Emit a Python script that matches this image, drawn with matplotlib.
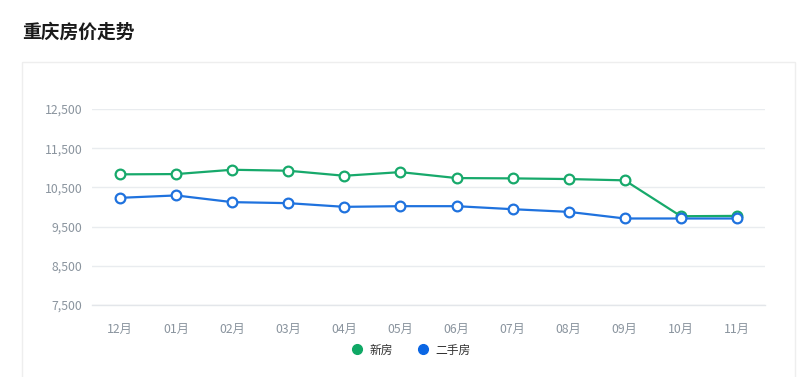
import matplotlib
matplotlib.use("Agg")
import matplotlib.pyplot as plt
from matplotlib.patches import Rectangle
from matplotlib.lines import Line2D

plt.rcParams['font.family'] = ['Noto Sans CJK SC', 'DejaVu Sans']

months = ['12月', '01月', '02月', '03月', '04月', '05月', '06月', '07月', '08月', '09月', '10月', '11月']
new_house = [10833, 10840, 10950, 10925, 10797, 10890, 10738, 10730, 10713, 10680, 9765, 9773]
second_hand = [10234, 10295, 10124, 10098, 10004, 10021, 10021, 9944, 9876, 9707, 9707, 9707]
yticks = [7500, 8500, 9500, 10500, 11500, 12500]

green = '#17a96b'
blue = '#1f72de'
grid_c = '#e9ecef'
label_c = '#8a949e'

fig = plt.figure(figsize=(8, 3.77), dpi=100)
W, H = 800, 377

# card background, kept under the axes
fig.patches.append(Rectangle((22 / W, -0.01), 773 / W, (H - 62) / H + 0.01,
                             transform=fig.transFigure, facecolor='white',
                             edgecolor='#eeeeee', lw=1, zorder=-5))

fig.text(22 / W, 1 - 32 / H, '重庆房价走势', fontsize=13.5, fontweight='bold',
         color='#1a1a1a', va='center', ha='left')

ax = fig.add_axes([92 / W, 1 - 305 / H, 673 / W, 196 / H])
ax.set_zorder(2)
ax.set_facecolor('none')
x = list(range(len(months)))
ax.plot(x, new_house, color=green, lw=1.6, marker='o', ms=7,
        mfc='white', mec=green, mew=1.6, zorder=3)
ax.plot(x, second_hand, color=blue, lw=1.6, marker='o', ms=7,
        mfc='white', mec=blue, mew=1.6, zorder=4)

ax.set_xlim(-0.5, len(months) - 0.5)
ax.set_ylim(yticks[0], yticks[-1])
ax.set_yticks(yticks)
ax.set_yticklabels([f'{v:,}' for v in yticks])
ax.set_xticks(x)
ax.set_xticklabels(months)
ax.grid(axis='y', color=grid_c, lw=1)
for s in ax.spines.values():
    s.set_visible(False)
ax.spines['bottom'].set_visible(True)
ax.spines['bottom'].set_color('#e3e6ea')
ax.spines['bottom'].set_linewidth(1)
ax.tick_params(length=0, colors=label_c, labelsize=8.8)
ax.tick_params(axis='y', pad=7)
ax.tick_params(axis='x', pad=13)

handles = [Line2D([], [], ls='', marker='o', ms=7, color='#0fa865'),
           Line2D([], [], ls='', marker='o', ms=7, color='#0a66e4')]
fig.legend(handles, ['新房', '二手房'], loc='center', bbox_to_anchor=(408 / W, 1 - 350 / H),
           ncol=2, frameon=False, fontsize=8.5, handletextpad=0.1, columnspacing=1.5,
           labelcolor='#333333')

fig.savefig('out.png', dpi=100)
